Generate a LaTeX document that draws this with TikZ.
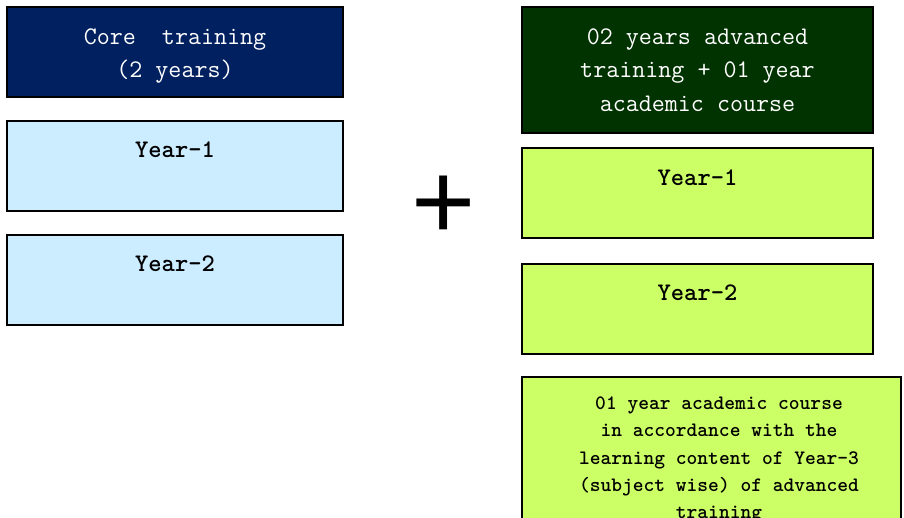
\documentclass[tikz,border=0pt]{standalone}
\usepackage{fontspec}
\newfontfamily\plusfont{Liberation Sans}
\definecolor{navy}{HTML}{002060}
\definecolor{paleblue}{HTML}{CCECFF}
\definecolor{darkgreen}{HTML}{003300}
\definecolor{lime}{HTML}{CCFF66}
\newcommand\topstrut{\rule{0pt}{20pt}}
\begin{document}
\begin{tikzpicture}[x=1pt,y=-1pt,
  box/.style={draw=black, line width=1.3pt, rectangle, inner sep=0pt},
  leftbox/.style={box, minimum width=336pt, minimum height=90pt},
  rightbox/.style={box, minimum width=351pt, minimum height=90pt},
  bigtxt/.style={anchor=north, inner sep=0pt, align=center, font=\ttfamily\fontsize{25.3}{33.5}\selectfont},
  yeartxt/.style={bigtxt, font=\ttfamily\bfseries\fontsize{25.3}{33.5}\selectfont},
  smalltxt/.style={anchor=north, inner sep=0pt, align=center, font=\ttfamily\bfseries\fontsize{20.5}{27.4}\selectfont}]
\useasboundingbox (0,0) rectangle (904,517);
\clip (0,0) rectangle (904,517);
% left column
\node[leftbox, fill=navy] (core) at (175,52) {};
\node[leftbox, fill=paleblue] (ly1) at (175,166) {};
\node[leftbox, fill=paleblue] (ly2) at (175,280) {};
\node[bigtxt, text=white] (coret) at (175,24) {\topstrut Core\ \ training\\(2 years)};
\node[yeartxt] (ly1t) at (175,137.5) {\topstrut Year-1};
\node[yeartxt] (ly2t) at (175,251) {\topstrut Year-2};
% plus
\node[inner sep=0pt, anchor=base, font=\plusfont\fontsize{110}{110}\selectfont] (plus) at (443.5,239) {+};
% right column
\node[box, fill=darkgreen, minimum width=351pt, minimum height=126pt] (adv) at (697.5,70) {};
\node[rightbox, fill=lime] (ry1) at (697.5,193) {};
\node[rightbox, fill=lime] (ry2) at (697.5,309) {};
\node[box, fill=lime, minimum width=379pt, minimum height=170pt] (acad) at (711.5,462) {};
\node[bigtxt, text=white] (advt) at (697.5,24) {\topstrut 02 years advanced\\training + 01 year\\academic course};
\node[yeartxt] (ry1t) at (697.5,165) {\topstrut Year-1};
\node[yeartxt] (ry2t) at (697.5,280.5) {\topstrut Year-2};
\node[smalltxt] (acadt) at (719,389) {\topstrut 01 year academic course\\in accordance with the\\learning content of Year-3\\(subject wise) of advanced\\training};
\end{tikzpicture}
\end{document}
